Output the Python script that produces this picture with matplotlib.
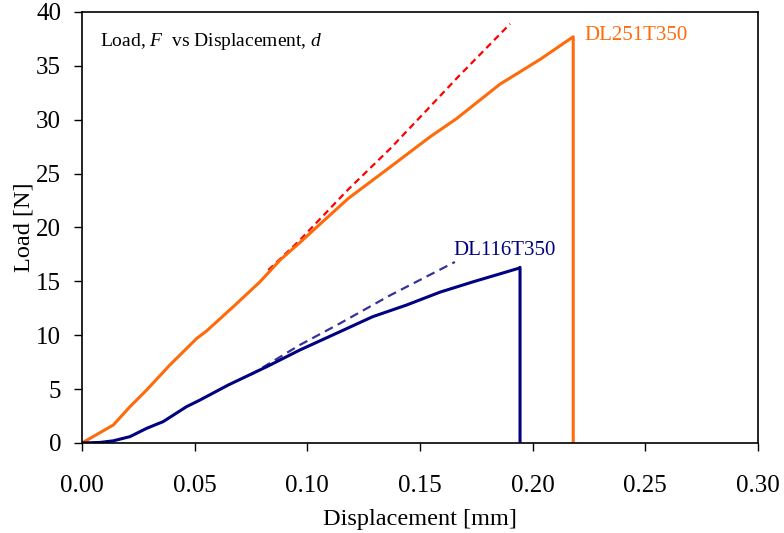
import numpy as np
import matplotlib
matplotlib.use('Agg')
import matplotlib.pyplot as plt
from matplotlib.ticker import FormatStrFormatter

plt.rcParams['font.family'] = ['Liberation Serif', 'DejaVu Serif']
plt.rcParams['mathtext.fontset'] = 'custom'
plt.rcParams['mathtext.it'] = 'Liberation Serif:italic'
plt.rcParams['mathtext.rm'] = 'Liberation Serif'

# DL251T350 (orange), measured curve
d_251 = [0, 0.0036, 0.0139, 0.0213, 0.0287, 0.039, 0.0509, 0.0553, 0.0671, 0.079,
         0.0879, 0.0967, 0.104, 0.1182, 0.1367, 0.1544, 0.1662, 0.1855, 0.2033, 0.218, 0.218]
F_251 = [0, 0.43, 1.67, 3.37, 4.92, 7.24, 9.7, 10.4, 12.64, 14.96,
         16.98, 18.6, 20.0, 22.7, 25.6, 28.4, 30.1, 33.3, 35.6, 37.7, 0]

# DL116T350 (navy), measured curve
d_116 = [0, 0.008, 0.0139, 0.0213, 0.0287, 0.036, 0.0464, 0.0524, 0.0649, 0.082,
         0.0967, 0.1145, 0.129, 0.144, 0.1589, 0.1736, 0.1936, 0.1944, 0.1944]
F_116 = [0, 0.05, 0.2, 0.59, 1.36, 1.98, 3.37, 3.99, 5.38, 7.08,
         8.63, 10.33, 11.72, 12.8, 14.0, 14.96, 16.2, 16.3, 0]

# linear extrapolations (dashed)
d_251_lin = [0.0827, 0.0967, 0.118, 0.1367, 0.1544, 0.167, 0.19]
F_251_lin = [16.05, 18.83, 23.5, 27.3, 31.2, 34.0, 38.9]
d_116_lin = [0.0746, 0.0967, 0.1145, 0.1367, 0.1655]
F_116_lin = [6.3, 9.1, 11.1, 13.7, 16.8]

fig = plt.figure(figsize=(7.84, 5.33), dpi=100)
ax = fig.add_axes([0.1046, 0.1689, 0.8622, 0.8086])

ax.plot(d_251_lin, F_251_lin, color='#FF0000', lw=1.6, dashes=(3, 2))
ax.plot(d_116_lin, F_116_lin, color='#333399', lw=1.6, dashes=(4, 2.5))
ax.plot(d_251, F_251, color='#FF6A0A', lw=2.2)
ax.plot(d_116, F_116, color='#000080', lw=2.2)

ax.text(0.2228, 37.85, 'DL251T350', color='#FF6A0A', fontsize=15, va='center', ha='left')
ax.text(0.165, 17.9, 'DL116T350', color='#000080', fontsize=15, va='center', ha='left')
ax.text(0.008, 37.3, r'Load, $F$  vs Displacement, $d$', fontsize=14, va='center', ha='left')

ax.set_xlim(0, 0.30)
ax.set_ylim(0, 40)
ax.set_xticks(np.arange(0, 0.301, 0.05))
ax.set_yticks(np.arange(0, 41, 5))
ax.xaxis.set_major_formatter(FormatStrFormatter('%.2f'))
ax.tick_params(direction='out', length=6, width=1, labelsize=18)
ax.tick_params(axis='x', pad=17)
ax.tick_params(axis='y', pad=9)
for s in ax.spines.values():
    s.set_linewidth(1.2)

ax.set_xlabel('Displacement [mm]', fontsize=17.5, labelpad=9)
ax.set_ylabel('Load [N]', fontsize=17.5, labelpad=1)

fig.savefig('out.png', dpi=100)
